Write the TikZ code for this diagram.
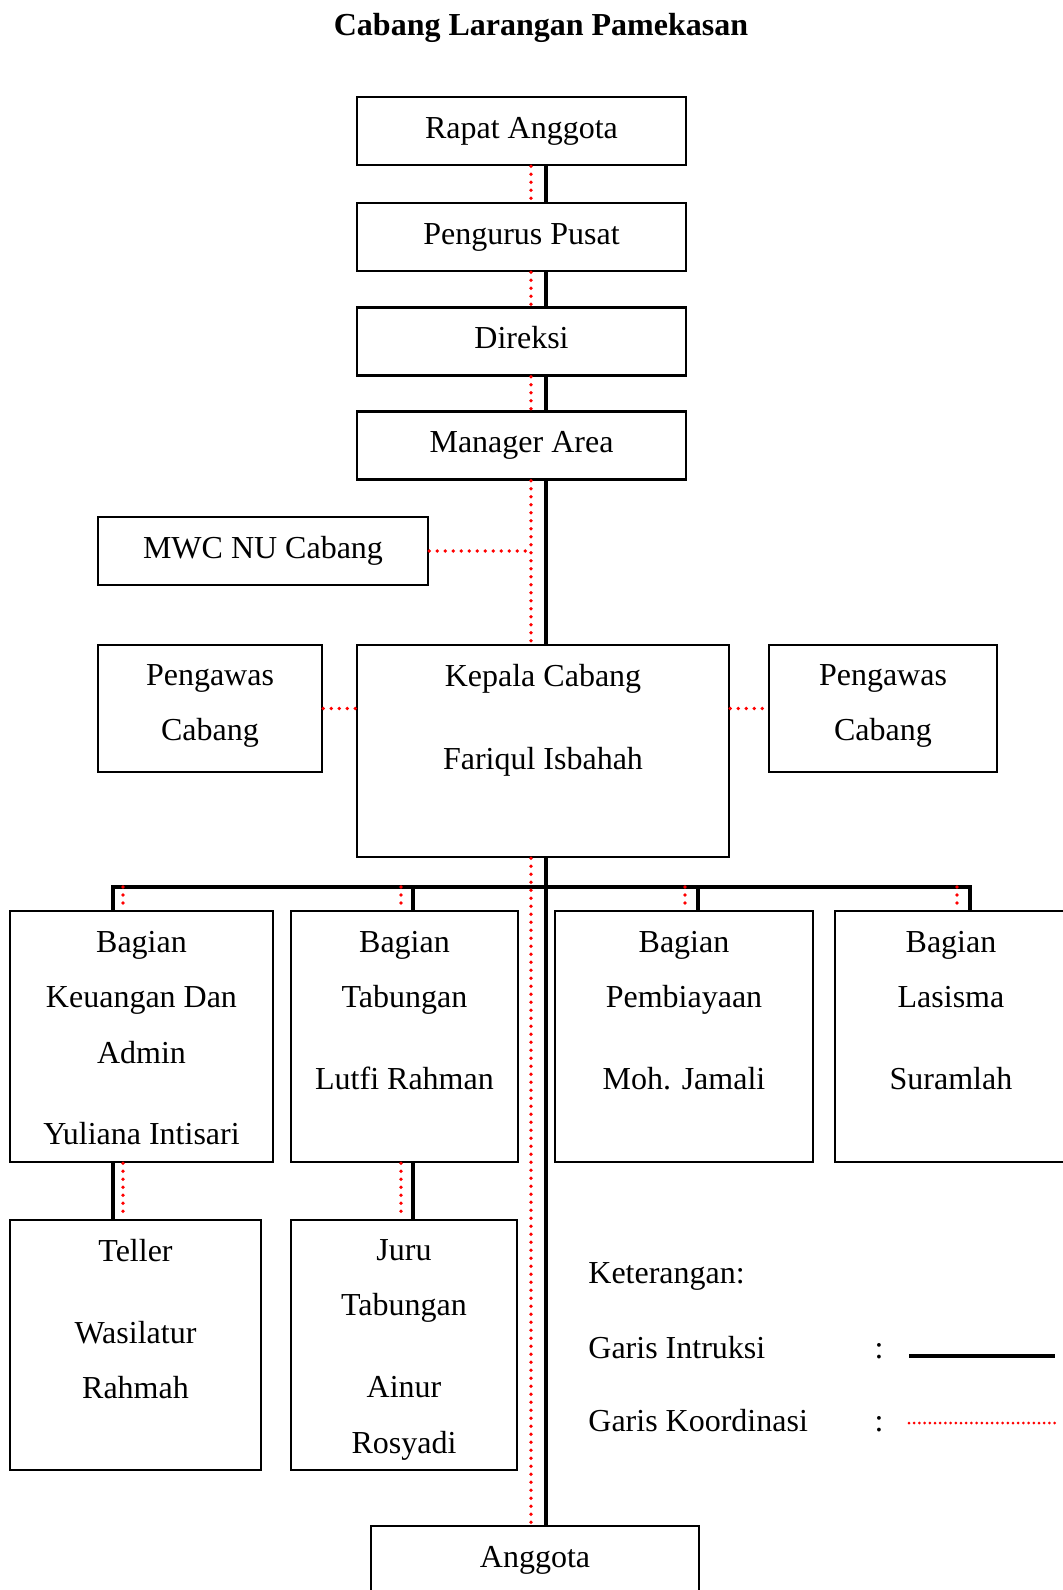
\documentclass[tikz,border=0pt]{standalone}
\usepackage{fontspec}
\setmainfont{Liberation Serif}
\usetikzlibrary{positioning, calc}

\begin{document}
\begin{tikzpicture}[x=0.5pt, y=0.5pt,
every node/.style={font=\fontsize{16}{27.75}\selectfont},
box/.style={draw, line width=1.3pt, fill=white, inner sep=0pt, text height=10.5pt, text depth=3.5pt},
txt/.style={align=center, inner sep=0pt},
garis/.style={line width=2pt},
koord/.style={red, line width=1.9pt, line cap=round, dash pattern=on 0pt off 4pt}]

\useasboundingbox (0,0) rectangle (1062,-1590);

% title
\node[anchor=base, font=\fontsize{16}{20}\selectfont\bfseries] (judul) at (541,-35) {Cabang Larangan Pamekasan};

% top chain
\node[box, minimum width=164.5pt, minimum height=34pt] (ra) at (521.5,-131) {Rapat Anggota};
\node[box, minimum width=164.5pt, minimum height=34pt] (pp) at (521.5,-237) {Pengurus Pusat};
\node[box, minimum width=164.5pt, minimum height=34pt] (dr) at (521.5,-341.5) {Direksi};
\node[box, minimum width=164.5pt, minimum height=34pt] (ma) at (521.5,-445.5) {Manager Area};
\node[box, minimum width=165pt, minimum height=34pt] (mw) at (263,-551) {MWC NU Cabang};

% kepala cabang + pengawas
\node[box, minimum width=186pt, minimum height=106pt] (kc) at (543,-751) {};
\node[txt, below=10pt of kc.north] (kc-t) {Kepala Cabang\\[13.75pt]Fariqul Isbahah};
\node[box, minimum width=112pt, minimum height=63.5pt] (pl) at (210,-708.5) {};
\node[txt, below=10pt of pl.north] (pl-t) {Pengawas\\Cabang};
\node[box, minimum width=114pt, minimum height=63.5pt] (pr) at (883,-708.5) {};
\node[txt, below=10pt of pr.north] (pr-t) {Pengawas\\Cabang};

% bagian
\node[box, minimum width=131.5pt, minimum height=125.5pt] (bk) at (141.5,-1036.5) {};
\node[txt, below=10.5pt of bk.north] (bk-t) {Bagian\\Keuangan Dan\\Admin\\[12.75pt]Yuliana Intisari};
\node[box, minimum width=113.5pt, minimum height=125.5pt] (bt) at (404.5,-1036.5) {};
\node[txt, below=10.5pt of bt.north] (bt-t) {Bagian\\Tabungan\\[13.25pt]Lutfi Rahman};
\node[box, minimum width=129pt, minimum height=125.5pt] (bp) at (684,-1036.5) {};
\node[txt, below=10.5pt of bp.north] (bp-t) {Bagian\\Pembiayaan\\[13.25pt]Moh. Jamali};
\node[box, minimum width=116pt, minimum height=125.5pt] (bl) at (951,-1036.5) {};
\node[txt, below=10.5pt of bl.north] (bl-t) {Bagian\\Lasisma\\[13.25pt]Suramlah};

% staf
\node[box, minimum width=125.5pt, minimum height=125pt] (te) at (135.5,-1345) {};
\node[txt, below=10pt of te.north] (te-t) {Teller\\[13.25pt]Wasilatur\\Rahmah};
\node[box, minimum width=113pt, minimum height=125pt] (jt) at (404,-1345) {};
\node[txt, below=10pt of jt.north] (jt-t) {Juru\\Tabungan\\[13.25pt]Ainur\\Rosyadi};

\node[box, minimum width=164pt, minimum height=34pt] (ag) at (535,-1560) {Anggota};

% spine
\coordinate (spine) at (546,0);
\coordinate (rspine) at (531,0);
\foreach \a/\b in {ra/pp, pp/dr, dr/ma, ma/kc, kc/ag} {
  \draw[garis] (\a.south -| spine) -- (\b.north -| spine);
}

% bar
\draw[garis] (bk.north -| 113,0) -- (113,-887) -- (970,-887) -- (bl.north -| 970,0);
\draw[garis] (413,-887) -- (bt.north -| 413,0);
\draw[garis] (698,-887) -- (bp.north -| 698,0);
\draw[garis] (bk.south -| 113,0) -- (te.north -| 113,0);
\draw[garis] (bt.south -| 413,0) -- (jt.north -| 413,0);

% koordinasi
\foreach \a/\b in {ra/pp, pp/dr, dr/ma, ma/kc, kc/ag} {
  \draw[koord] (\a.south -| rspine) -- (\b.north -| rspine);
}
\draw[koord] (mw.east) -- (mw.east -| rspine);
\draw[koord] (pl.east) -- (pl.east -| kc.west);
\draw[koord] (kc.east |- pr.west) -- (pr.west);
\foreach \n/\rx in {bk/123, bt/401, bp/685, bl/957} {
  \draw[koord] (\rx,-887) -- (\n.north -| \rx,0);
}
\draw[koord] (bk.south -| 123,0) -- (te.north -| 123,0);
\draw[koord] (bt.south -| 401,0) -- (jt.north -| 401,0);

% keterangan
\node[anchor=base west, inner sep=0pt] (ket) at (588,-1283) {Keterangan:};
\node[anchor=base west, inner sep=0pt] (gi) at (588,-1358) {Garis Intruksi};
\node[anchor=base west, inner sep=0pt] (gk) at (588,-1431) {Garis Koordinasi};
\node[anchor=base, inner sep=0pt] (c1) at (879,-1358) {:};
\node[anchor=base, inner sep=0pt] (c2) at (879,-1431) {:};
\coordinate (gi-a) at (909,-1356);
\coordinate (gi-b) at (1055,-1356);
\coordinate (gk-a) at (909,-1423);
\coordinate (gk-b) at (1055,-1423);
\draw[garis] (gi-a) -- (gi-b);
\draw[koord, line width=1.5pt, dash pattern=on 0pt off 2.6pt] (gk-a) -- (gk-b);
\end{tikzpicture}
\end{document}
